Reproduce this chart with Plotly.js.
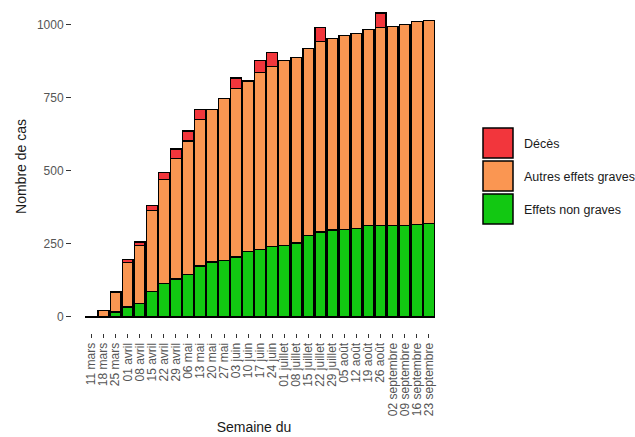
<!DOCTYPE html>
<html>
<head>
<meta charset="utf-8">
<script src="https://cdn.plot.ly/plotly-3.0.1.min.js"></script>
<style>
  html, body { margin: 0; padding: 0; background: #ffffff; }
  #chart { width: 635px; height: 437px; }
</style>
</head>
<body>
<div id="chart"></div>
<script>
// ---- Data ----
const semaines = ["11 mars","18 mars","25 mars","01 avril","08 avril","15 avril","22 avril","29 avril",
  "06 mai","13 mai","20 mai","27 mai","03 juin","10 juin","17 juin","24 juin",
  "01 juillet","08 juillet","15 juillet","22 juillet","29 juillet","05 août","12 août","19 août","26 août",
  "02 septembre","09 septembre","16 septembre","23 septembre"];

const effetsNonGraves = [0,0,17,34,46,86,114,130,146,174,188,194,205,223,232,241,
  244,253,278,291,298,299,302,313,314,314,314,317,321];

const autresEffetsGraves = [2,23,67,152,199,279,356,412,456,501,523,555,577,585,604,617,
  633,636,642,651,656,665,669,671,676,680,688,694,694];

const deces = [0,0,3,10,12,17,25,33,35,36,0,0,36,0,42,48,
  0,0,0,48,0,0,0,0,50,0,0,0,0];

const seriesNames = ["Effets non graves", "Autres effets graves", "Décès"];
const seriesColors = ["#12c812", "#fa9652", "#f2363c"];
const yTicks = [0, 250, 500, 750, 1000];

// ---- Layout geometry (pixels) ----
const W = 635, H = 437;
const M = { l: 72, r: 199, t: 0, b: 104 };
const plotW = W - M.l - M.r, plotH = H - M.t - M.b;
const px2paperX = p => (p - M.l) / plotW;
const px2paperY = p => (H - M.b - p) / plotH;

const font = "Liberation Sans, Arial, Helvetica, sans-serif";

const seriesData = [effetsNonGraves, autresEffetsGraves, deces];
const traces = seriesData.map((vals, i) => ({
  type: "bar",
  name: seriesNames[i],
  x: semaines,
  y: vals.map(v => (v === 0 && i === 2) ? null : v),
  width: 0.9,
  marker: { color: seriesColors[i], line: { color: "#000000", width: 1.3 } },
  showlegend: false,
  hoverinfo: "x+y+name"
}));

// Legend drawn as keys + labels (order: top = Décès)
const legendOrder = [2, 1, 0];
const shapes = [];
const annotations = [];
legendOrder.forEach((si, k) => {
  const top = 128 + k * 33;
  shapes.push({
    type: "rect", xref: "paper", yref: "paper",
    x0: px2paperX(483), x1: px2paperX(513),
    y0: px2paperY(top + 30), y1: px2paperY(top),
    fillcolor: seriesColors[si], line: { color: "#000000", width: 1.5 }
  });
  annotations.push({
    xref: "paper", yref: "paper",
    x: px2paperX(522), y: px2paperY(top + 16),
    xanchor: "left", yanchor: "middle",
    text: seriesNames[si], showarrow: false,
    font: { family: font, size: 12.5, color: "#1a1a1a" }
  });
});

const layout = {
  width: W, height: H,
  margin: M,
  paper_bgcolor: "#ffffff",
  plot_bgcolor: "#ffffff",
  barmode: "stack",
  bargap: 0.1,
  showlegend: false,
  font: { family: font, color: "#1a1a1a" },
  xaxis: {
    type: "category",
    range: [-1.62, 28.6],
    tickmode: "array",
    tickvals: semaines,
    ticktext: semaines,
    showgrid: false, zeroline: false, showline: false,
    ticks: "outside", ticklen: 4, tickwidth: 1, tickcolor: "#333333",
    tickangle: -90,
    tickfont: { family: font, size: 12, color: "#555555" },
    title: { text: "Semaine du", font: { family: font, size: 14, color: "#1a1a1a" }, standoff: 7 },
    automargin: false
  },
  yaxis: {
    range: [-55, 1085],
    tickvals: yTicks,
    ticktext: yTicks.map(String),
    showgrid: false, zeroline: false, showline: false,
    ticks: "outside", ticklen: 5, tickwidth: 1, tickcolor: "#333333",
    tickfont: { family: font, size: 12, color: "#555555" },
    title: { text: "Nombre de cas", font: { family: font, size: 14, color: "#1a1a1a" }, standoff: 6 },
    automargin: false
  },
  shapes: shapes,
  annotations: annotations
};

Plotly.newPlot("chart", traces, layout, { displayModeBar: false, staticPlot: true });
</script>
</body>
</html>
